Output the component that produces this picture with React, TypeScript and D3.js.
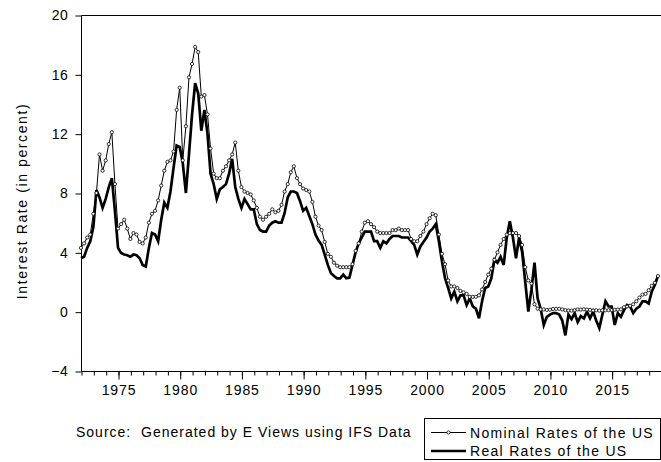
import { useEffect, useRef } from "react"
import * as d3 from "d3"

// quarterly observations, 1972Q1 .. 2018Q4
const startYear = 1972
const nominalRates = [
  4.3, 4.6, 5.0, 5.2, 6.6, 8.0, 10.6, 9.5, 10.2, 11.3, 12.1, 8.6,
  5.6, 5.9, 6.2, 5.6, 4.9, 5.3, 5.2, 4.7, 4.6, 5.0, 6.0, 6.6,
  6.8, 7.5, 8.5, 9.5, 10.1, 10.2, 10.8, 13.6, 15.1, 10.2, 12.5, 15.8,
  16.7, 17.85, 17.5, 14.5, 14.6, 13.3, 11.0, 9.3, 9.0, 9.0, 9.5, 9.8,
  10.2, 10.6, 11.4, 9.5, 8.4, 8.1, 8.0, 7.9, 7.5, 7.0, 6.4, 6.2,
  6.4, 6.6, 6.9, 6.7, 6.8, 7.2, 8.1, 8.6, 9.4, 9.8, 9.0, 8.6,
  8.3, 8.2, 8.1, 7.4, 6.4, 5.8, 5.5, 4.7, 3.9, 3.7, 3.3, 3.1,
  3.0, 3.0, 3.0, 3.0, 3.2, 4.1, 4.6, 5.4, 6.0, 6.1, 5.9, 5.7,
  5.4, 5.3, 5.3, 5.3, 5.3, 5.5, 5.5, 5.6, 5.5, 5.5, 5.5, 4.9,
  4.75, 4.75, 5.1, 5.4, 5.9, 6.3, 6.6, 6.5, 5.2, 3.9, 3.2, 2.1,
  1.7, 1.7, 1.6, 1.4, 1.3, 1.2, 1.0, 1.0, 1.0, 1.1, 1.5, 2.0,
  2.5, 2.9, 3.5, 4.0, 4.5, 4.9, 5.2, 5.3, 5.3, 5.3, 5.1, 4.5,
  3.0, 2.1, 1.9, 0.5, 0.2, 0.15, 0.15, 0.12, 0.13, 0.18, 0.19, 0.19,
  0.15, 0.1, 0.08, 0.07, 0.1, 0.15, 0.14, 0.16, 0.14, 0.12, 0.08, 0.09,
  0.07, 0.09, 0.09, 0.1, 0.11, 0.13, 0.14, 0.16, 0.3, 0.35, 0.4, 0.5,
  0.7, 0.95, 1.15, 1.2, 1.45, 1.75, 1.95, 2.4,
]
const realRates = [
  3.6, 3.7, 4.3, 4.75, 5.7, 8.2, 7.7, 7.0, 7.6, 8.4, 9.0, 6.8,
  4.3, 3.95, 3.85, 3.8, 3.7, 3.85, 3.8, 3.6, 3.15, 3.05, 4.3, 5.3,
  5.2, 4.75, 6.2, 7.35, 7.0, 8.1, 9.7, 11.2, 11.1, 10.0, 8.0, 10.6,
  13.3, 15.4, 14.7, 12.2, 13.6, 12.0, 9.3, 8.6, 7.6, 8.25, 8.4, 8.6,
  9.3, 10.3, 8.4, 7.6, 7.0, 7.6, 7.25, 6.9, 6.9, 5.9, 5.5, 5.4,
  5.4, 5.8, 6.0, 6.1, 6.0, 6.0, 6.65, 7.7, 8.1, 8.1, 8.0, 7.45,
  6.8, 7.0, 6.45, 5.9, 5.2, 4.8, 4.5, 3.85, 3.15, 2.6, 2.4, 2.25,
  2.25, 2.5, 2.25, 2.3, 3.15, 4.0, 4.6, 5.0, 5.4, 5.4, 5.4, 4.75,
  4.75, 4.3, 4.75, 4.6, 4.9, 5.1, 5.1, 5.1, 5.0, 5.0, 5.0, 4.75,
  4.5, 3.85, 4.4, 4.7, 5.0, 5.4, 5.6, 5.9, 4.75, 3.4, 2.25, 1.6,
  0.9, 1.35, 0.7, 1.1, 1.1, 0.45, 0.9, 0.35, 0.2, -0.45, 0.7, 1.6,
  1.7, 2.25, 3.5, 3.3, 3.7, 3.15, 5.0, 6.1, 5.0, 3.6, 5.0, 4.0,
  2.0, 0.0, 1.5, 3.3, 0.9, 0.2, -0.9, -0.35, -0.2, -0.1, -0.1, -0.2,
  -0.6, -1.6, -0.2, -0.5, -0.1, -0.7, -0.3, -0.45, 0.0, -0.45, 0.0, -0.6,
  -1.1, -0.2, 0.7, 0.35, 0.35, -0.9, -0.1, -0.35, 0.1, 0.45, 0.35, -0.1,
  0.2, 0.35, 0.7, 0.7, 0.55, 1.35, 1.8, 2.4,
]
const yTicks = [-4, 0, 4, 8, 12, 16, 20]
const xLabels = [1975, 1980, 1985, 1990, 1995, 2000, 2005, 2010, 2015]
const legendLabels = ["Nominal Rates of the US", "Real Rates of the US"]
const sourceNote = "Source:  Generated by E Views using IFS Data"

const W = 661
const H = 462
const font = "'Liberation Sans', Arial, sans-serif"

export default function App() {
  const ref = useRef<SVGSVGElement>(null)

  useEffect(() => {
    const svg = d3.select(ref.current)
    svg.selectAll("*").remove()

    const left = 81, right = 661, top = 15, bottom = 371
    const x = d3.scaleLinear().domain([1972, 2019]).range([left, right])
    const y = d3.scaleLinear().domain([-4, 20]).range([bottom, top])

    const nominal = nominalRates.map((v, i) => [startYear + i / 4, v] as [number, number])
    const real = realRates.map((v, i) => [startYear + i / 4, v] as [number, number])

    // frame (right side cut off in the original)
    svg.append("path")
      .attr("d", `M${right + 2},${top + 0.5}H${left + 0.5}V${bottom + 0.5}H${right + 2}`)
      .attr("fill", "none").attr("stroke", "#000").attr("stroke-width", 1)

    // y axis
    const yAxis = svg.append("g")
      .attr("transform", `translate(${left + 0.5},0.5)`)
      .call(d3.axisLeft(y).tickValues(yTicks).tickSize(6).tickPadding(7).tickSizeOuter(0))
    yAxis.select(".domain").remove()
    yAxis.selectAll("text").attr("font-family", font).attr("font-size", 14).attr("fill", "#000")
      .attr("letter-spacing", 0.6)

    // x axis: minor ticks each year, labels every five
    const years = d3.range(1972, 2019)
    const xAxis = svg.append("g")
      .attr("transform", `translate(0.5,${bottom + 0.5})`)
      .call(d3.axisBottom(x).tickValues(years).tickSize(4).tickFormat(() => "").tickSizeOuter(0))
    xAxis.select(".domain").remove()
    const xMajor = svg.append("g")
      .attr("transform", `translate(0.5,${bottom + 0.5})`)
      .call(d3.axisBottom(x).tickValues(xLabels).tickSize(8).tickPadding(6).tickFormat(d3.format("d")).tickSizeOuter(0))
    xMajor.select(".domain").remove()
    xMajor.selectAll("text").attr("font-family", font).attr("font-size", 14).attr("fill", "#000")
      .attr("letter-spacing", 0.9)

    const line = d3.line<[number, number]>().x(d => x(d[0])).y(d => y(d[1]))

    svg.append("path").datum(real)
      .attr("d", line).attr("fill", "none").attr("stroke", "#000")
      .attr("stroke-width", 2.7).attr("stroke-linejoin", "miter")

    svg.append("path").datum(nominal)
      .attr("d", line).attr("fill", "none").attr("stroke", "#000").attr("stroke-width", 1)
    svg.append("g").selectAll("circle").data(nominal).enter().append("circle")
      .attr("cx", d => x(d[0])).attr("cy", d => y(d[1])).attr("r", 1.6)
      .attr("fill", "#fff").attr("stroke", "#000").attr("stroke-width", 0.8)

    // y title
    svg.append("text")
      .attr("transform", `translate(27,201) rotate(-90)`)
      .attr("text-anchor", "middle").attr("font-family", font).attr("font-size", 14)
      .attr("letter-spacing", 1.6)
      .text("Interest Rate (in percent)")

    // source note
    svg.append("text")
      .attr("x", 76).attr("y", 437)
      .attr("font-family", font).attr("font-size", 14).attr("letter-spacing", 1.0)
      .attr("xml:space", "preserve")
      .text(sourceNote)

    // legend
    const lg = svg.append("g")
    lg.append("rect").attr("x", 424.5).attr("y", 418.5).attr("width", 236).attr("height", 41)
      .attr("fill", "#fff").attr("stroke", "#000").attr("stroke-width", 1)
    lg.append("line").attr("x1", 431).attr("x2", 466).attr("y1", 432.5).attr("y2", 432.5)
      .attr("stroke", "#000").attr("stroke-width", 1)
    lg.append("circle").attr("cx", 448.5).attr("cy", 432.5).attr("r", 1.6)
      .attr("fill", "#fff").attr("stroke", "#000").attr("stroke-width", 0.8)
    lg.append("line").attr("x1", 431).attr("x2", 466).attr("y1", 451).attr("y2", 451)
      .attr("stroke", "#000").attr("stroke-width", 2.7)
    legendLabels.forEach((t, i) => {
      lg.append("text").attr("x", 470).attr("y", 437.5 + i * 18.5)
        .attr("font-family", font).attr("font-size", 14).attr("letter-spacing", 1.3)
        .text(t)
    })
  }, [])

  return (
    <div style={{ position: "absolute", left: 0, top: 0 }}>
      <svg ref={ref} width={W} height={H} style={{ display: "block", background: "#fff" }} />
    </div>
  )
}
